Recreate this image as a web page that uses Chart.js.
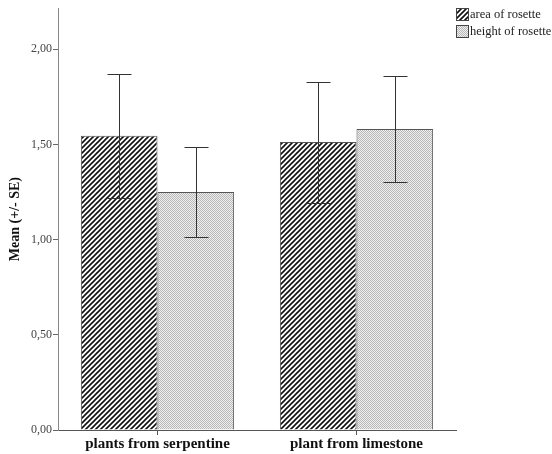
<!DOCTYPE html>
<html>
<head>
<meta charset="utf-8">
<script src="https://cdn.jsdelivr.net/npm/chart.js@4/dist/chart.umd.min.js"></script>
<style>
  html, body { margin: 0; padding: 0; background: #fff; }
  #wrap { width: 552px; height: 454px; }
</style>
</head>
<body>
<div id="wrap"><canvas id="chart"></canvas></div>
<script>
const categories = ["plants from serpentine", "plant from limestone"];
const seriesNames = ["area of rosette", "height of rosette"];
const areaMean = [1.545, 1.512];
const areaSE = [0.327, 0.318];
const heightMean = [1.250, 1.580];
const heightSE = [0.237, 0.278];
const yTicks = [0, 0.5, 1, 1.5, 2];

const FONT = "'Liberation Serif', 'DejaVu Serif', serif";

function hatchPattern() {
  const c = document.createElement("canvas");
  c.width = 5; c.height = 5;
  const g = c.getContext("2d");
  g.fillStyle = "#fff";
  g.fillRect(0, 0, 5, 5);
  g.strokeStyle = "#111";
  g.lineWidth = 1.6;
  g.beginPath();
  g.moveTo(-1, 6); g.lineTo(6, -1);
  g.moveTo(-1, 1); g.lineTo(1, -1);
  g.moveTo(4, 6); g.lineTo(6, 4);
  g.stroke();
  return g.createPattern(c, "repeat");
}

function dotPattern() {
  const c = document.createElement("canvas");
  c.width = 2; c.height = 2;
  const g = c.getContext("2d");
  g.fillStyle = "#efefef";
  g.fillRect(0, 0, 2, 2);
  g.fillStyle = "#b8b8b8";
  g.fillRect(0, 0, 1, 1);
  g.fillRect(1, 1, 1, 1);
  return g.createPattern(c, "repeat");
}

const fills = [hatchPattern(), dotPattern()];

// error bars drawn from the SE arrays
const errorBars = {
  id: "errorBars",
  afterDatasetsDraw(chart) {
    const ctx = chart.ctx;
    const y = chart.scales.y;
    const seList = [areaSE, heightSE];
    ctx.save();
    ctx.strokeStyle = "#333";
    ctx.lineWidth = 1;
    chart.data.datasets.forEach((ds, di) => {
      chart.getDatasetMeta(di).data.forEach((bar, i) => {
        const v = ds.data[i], se = seList[di][i];
        const x = Math.round(bar.x) + 0.5;
        const top = Math.round(y.getPixelForValue(v + se)) + 0.5;
        const bot = Math.round(y.getPixelForValue(v - se)) + 0.5;
        ctx.beginPath();
        ctx.moveTo(x, top); ctx.lineTo(x, bot);
        ctx.moveTo(x - 12, top); ctx.lineTo(x + 12, top);
        ctx.moveTo(x - 12, bot); ctx.lineTo(x + 12, bot);
        ctx.stroke();
      });
    });
    ctx.restore();
  }
};

const boxLegend = {
  id: "boxLegend",
  afterDraw(chart) {
    const ctx = chart.ctx;
    const x0 = chart.chartArea.right;
    ctx.save();
    ctx.font = "12.5px " + FONT;
    ctx.textBaseline = "middle";
    chart.data.datasets.forEach((ds, i) => {
      const yy = 8 + i * 17;
      ctx.fillStyle = ds.backgroundColor;
      ctx.fillRect(x0, yy, 12, 12);
      ctx.strokeStyle = "#444";
      ctx.lineWidth = 1;
      ctx.strokeRect(x0 + 0.5, yy + 0.5, 12, 12);
      ctx.fillStyle = "#222";
      ctx.fillText(ds.label, x0 + 14, yy + 7);
    });
    ctx.restore();
  }
};

new Chart(document.getElementById("chart"), {
  type: "bar",
  data: {
    labels: categories,
    datasets: [
      { label: seriesNames[0], data: areaMean, backgroundColor: fills[0], borderColor: "#555", borderWidth: 1 },
      { label: seriesNames[1], data: heightMean, backgroundColor: fills[1], borderColor: "#555", borderWidth: 1 }
    ]
  },
  options: {
    responsive: true,
    maintainAspectRatio: false,
    animation: false,
    layout: { padding: { top: 8, right: 96, bottom: 0, left: 7 } },
    categoryPercentage: 0.77,
    barPercentage: 1,
    plugins: {
      legend: { display: false },
      tooltip: { enabled: false }
    },
    scales: {
      x: {
        afterFit: s => { s.height = 24; },
        grid: { display: true, drawOnChartArea: false, offset: false, tickLength: 5, color: "#555" },
        border: { color: "#555" },
        ticks: { color: "#111", padding: 0, font: { family: FONT, size: 15, weight: "bold" } }
      },
      y: {
        min: 0,
        max: 2.215,
        afterFit: s => { s.width = 51; },
        afterBuildTicks: s => { s.ticks = yTicks.map(v => ({ value: v })); },
        grid: { display: true, drawOnChartArea: false, tickLength: 5, color: "#666" },
        border: { color: "#888" },
        ticks: {
          color: "#444",
          padding: 1,
          font: { family: FONT, size: 12 },
          callback: v => v.toFixed(2).replace(".", ",")
        },
        title: {
          display: true,
          text: "Mean (+/- SE)",
          color: "#111",
          padding: { top: 0, bottom: 0 },
          font: { family: FONT, size: 14, weight: "bold" }
        }
      }
    }
  },
  plugins: [errorBars, boxLegend]
});
</script>
</body>
</html>
